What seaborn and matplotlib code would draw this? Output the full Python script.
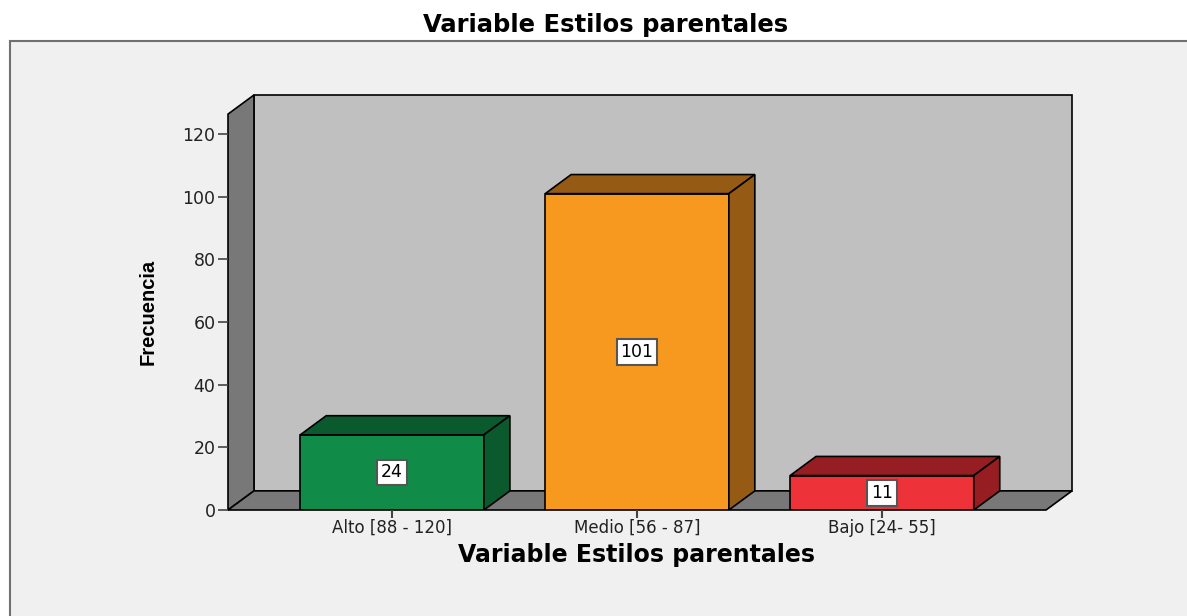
import matplotlib
matplotlib.use("Agg")
import matplotlib.pyplot as plt
import seaborn as sns
from matplotlib.patches import Polygon, Rectangle

# ------------------------------
# Data
# ------------------------------
categories = ["Alto [88 - 120]", "Medio [56 - 87]", "Bajo [24- 55]"]
frequencies = [24, 101, 11]
front_colors = ["#108C48", "#F7991F", "#EE323A"]
shade_colors = ["#0A5A2D", "#955A14", "#961E22"]
y_ticks = [0, 20, 40, 60, 80, 100, 120]

# ------------------------------
# Figure setup
# ------------------------------
sns.set_theme(style="white")
plt.rcParams["font.family"] = ["DejaVu Sans"]

fig = plt.figure(figsize=(11.87, 6.16), dpi=100)
fig.patch.set_facecolor("white")

# outer chart frame (SPSS style)
frame = Rectangle((10 / 1187, -0.05), 1.05, 1 - 41 / 616 + 0.05,
                  transform=fig.transFigure, facecolor="#F0F0F0",
                  edgecolor="#707070", linewidth=1.5, zorder=-10)
fig.patches.append(frame)

ax = fig.add_axes([228 / 1187, 106 / 616, 844 / 1187, 415 / 616])
ax.set_facecolor("none")

# 3D depth in data units
dx, dy = 0.106, 6.1
x_lo, x_hi = -0.67, 2.67
y_top = 126.4

# walls and floor
wall_kw = dict(edgecolor="black", linewidth=1.2, zorder=0.5, clip_on=False)
ax.add_patch(Polygon([(x_lo + dx, dy), (x_hi + dx, dy), (x_hi + dx, y_top + dy),
                      (x_lo + dx, y_top + dy)], facecolor="#C0C0C0", **wall_kw))
ax.add_patch(Polygon([(x_lo, 0), (x_lo, y_top), (x_lo + dx, y_top + dy),
                      (x_lo + dx, dy)], facecolor="#787878", **wall_kw))
ax.add_patch(Polygon([(x_lo, 0), (x_hi, 0), (x_hi + dx, dy), (x_lo + dx, dy)],
                     facecolor="#787878", **wall_kw))
n_deco = len(ax.patches)

# ------------------------------
# Bars
# ------------------------------
sns.barplot(x=categories, y=frequencies, hue=categories, palette=front_colors,
            saturation=1, width=0.75, edgecolor="black", linewidth=1.2,
            legend=False, ax=ax, zorder=2)

bars = ax.patches[n_deco:n_deco + len(categories)]
for p, val, shade in zip(bars, frequencies, shade_colors):
    x0 = p.get_x()
    x1 = x0 + p.get_width()
    h = p.get_height()
    top = Polygon([(x0, h), (x1, h), (x1 + dx, h + dy), (x0 + dx, h + dy)],
                  facecolor=shade, edgecolor="black", linewidth=1.2, zorder=2)
    side = Polygon([(x1, 0), (x1 + dx, dy), (x1 + dx, h + dy), (x1, h)],
                   facecolor=shade, edgecolor="black", linewidth=1.2, zorder=2)
    ax.add_patch(top)
    ax.add_patch(side)
    ax.text(x0 + p.get_width() / 2, h / 2, str(val), ha="center", va="center",
            fontsize=12.5, color="black", zorder=3,
            bbox=dict(boxstyle="square,pad=0.22", facecolor="white",
                      edgecolor="#555555", linewidth=1.5))

ax.set_xlim(x_lo, x_hi + dx)
ax.set_ylim(0, y_top + dy)
ax.set_yticks(y_ticks)
for s in ax.spines.values():
    s.set_visible(False)
ax.tick_params(axis="y", left=True, length=7, width=1.2, color="#444444",
               pad=2, labelsize=12.5, labelcolor="#222222")
ax.tick_params(axis="x", bottom=True, length=6, width=1.5, color="#444444",
               pad=0.5, labelsize=12, labelcolor="#222222")
ax.set_xlabel("")
ax.set_ylabel("")

# ------------------------------
# Titles
# ------------------------------
fig.text(606 / 1187, 1 - 25 / 616, "Variable Estilos parentales", ha="center",
         va="center", fontsize=17.5, fontweight="bold", color="black")
fig.text(637 / 1187, 1 - 555 / 616, "Variable Estilos parentales", ha="center",
         va="center", fontsize=17, fontweight="bold", color="black")
fig.text(148 / 1187, 1 - 312 / 616, "Frecuencia", ha="center", va="center",
         rotation=90, fontsize=14.5, fontweight="bold", color="black",
         family=["Liberation Sans", "DejaVu Sans"])

fig.savefig("out.png", dpi=100)
